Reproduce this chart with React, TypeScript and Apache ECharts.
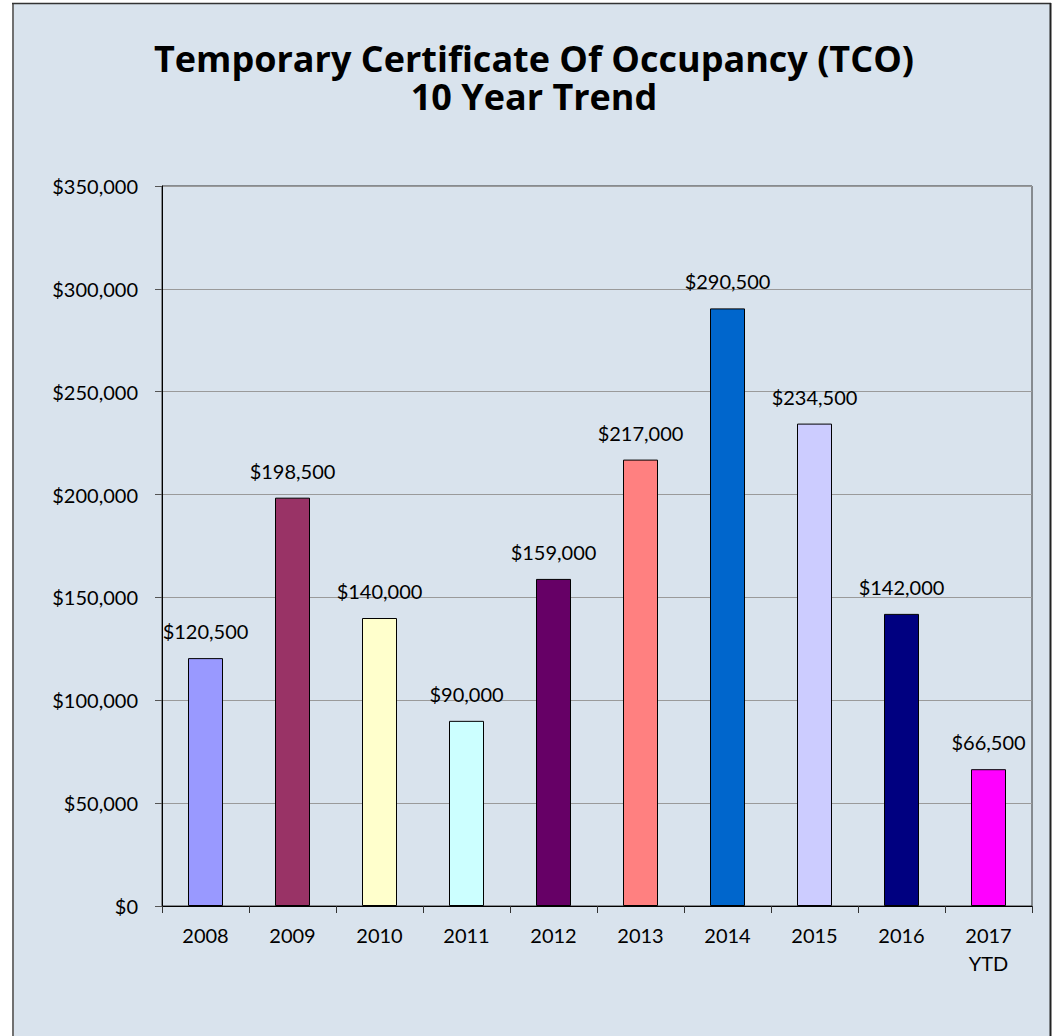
import React, { useEffect, useRef } from "react";
import * as echarts from "echarts";

const categories = ["2008", "2009", "2010", "2011", "2012", "2013", "2014", "2015", "2016", "2017\nYTD"];
const values = [120500, 198500, 140000, 90000, 159000, 217000, 290500, 234500, 142000, 66500];
const barColors = ["#9999FF", "#993366", "#FFFFCC", "#CCFFFF", "#660066", "#FF8080", "#0066CC", "#CCCCFF", "#000080", "#FF00FF"];
const titleLines = ["Temporary Certificate Of Occupancy (TCO)", "10 Year Trend"];

const FONT = "Lato, 'Open Sans', sans-serif";
const TITLE_FONT = "'Open Sans', Lato, sans-serif";
const money = (v: number) => "$" + Math.round(v).toLocaleString("en-US");

export default function App() {
  const ref = useRef<HTMLDivElement>(null);
  useEffect(() => {
    const chart = echarts.init(ref.current!, null, { renderer: "svg" });
    chart.setOption({
      animation: false,
      backgroundColor: "#ffffff",
      graphic: [
        { type: "rect", shape: { x: 12, y: 3, width: 1039, height: 1040 }, style: { fill: "#d9e3ed" }, z: -10 },
        { type: "line", shape: { x1: 13, y1: 3, x2: 13, y2: 1036 }, style: { stroke: "#707070", lineWidth: 2 } },
        { type: "line", shape: { x1: 12, y1: 3.5, x2: 1051, y2: 3.5 }, style: { stroke: "#333333", lineWidth: 1.5 } },
        { type: "line", shape: { x1: 1050.5, y1: 3, x2: 1050.5, y2: 1036 }, style: { stroke: "#222222", lineWidth: 2 } },
        {
          type: "text",
          x: 534,
          y: 77,
          style: {
            text: titleLines.join("\n"),
            font: `bold 36px ${TITLE_FONT}`,
            lineHeight: 38,
            fill: "#000",
            align: "center",
            verticalAlign: "middle",
          },
        },
      ],
      grid: {
        left: 162,
        top: 186,
        width: 870,
        height: 720,
        show: true,
        borderColor: "#333333",
        borderWidth: 1,
        backgroundColor: "transparent",
      },
      xAxis: {
        type: "category",
        data: categories,
        axisLine: { show: true, lineStyle: { color: "#000", width: 1 } },
        axisTick: { show: true, length: 7, lineStyle: { color: "#333" } },
        axisLabel: { color: "#000", fontFamily: FONT, fontSize: 20, margin: 15, lineHeight: 28 },
      },
      yAxis: {
        type: "value",
        min: 0,
        max: 350000,
        interval: 50000,
        axisLine: { show: true, lineStyle: { color: "#000", width: 1 } },
        axisTick: { show: true, length: 7, lineStyle: { color: "#555" } },
        splitLine: { show: true, lineStyle: { color: "#9a9a9a", width: 1 } },
        axisLabel: { color: "#000", fontFamily: FONT, fontSize: 20, margin: 24, formatter: (v: number) => money(v) },
      },
      series: [
        {
          type: "bar",
          barWidth: 35,
          data: values.map((v, i) => ({
            value: v,
            itemStyle: { color: barColors[i], borderColor: "#000", borderWidth: 1 },
          })),
          label: {
            show: true,
            position: "top",
            distance: 17,
            color: "#000",
            fontFamily: FONT,
            fontSize: 20,
            formatter: (p: any) => money(p.value),
          },
        },
      ],
    });
    return () => chart.dispose();
  }, []);
  return (
    <div style={{ position: "fixed", left: 0, top: 0, width: 1053, height: 1036 }}>
      <div ref={ref} style={{ width: 1053, height: 1036 }} />
    </div>
  );
}
